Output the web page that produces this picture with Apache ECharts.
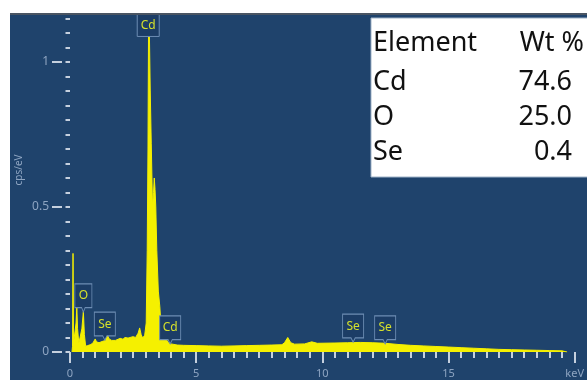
<!DOCTYPE html>
<html><head><meta charset="utf-8">
<script src="https://cdn.jsdelivr.net/npm/echarts/dist/echarts.min.js"></script>
<style>html,body{margin:0;padding:0;background:#fff}#c{width:587px;height:380px}</style>
</head><body><div id="c"></div>
<script>
// EDS spectrum (keV, cps/eV)
const energy = [0.08,0.1,0.12,0.14,0.2,0.24,0.27,0.3,0.35,0.4,0.47,0.53,0.57,0.62,0.7,0.8,0.9,1.0,1.05,1.15,1.27,1.4,1.48,1.55,1.65,1.8,1.99,2.1,2.18,2.3,2.5,2.6,2.7,2.76,2.82,2.88,2.96,3.02,3.06,3.09,3.12,3.14,3.18,3.22,3.27,3.31,3.34,3.37,3.4,3.44,3.5,3.56,3.6,3.7,3.8,3.9,4.0,4.25,4.5,5.0,5.5,6.0,6.5,7.0,7.5,8.0,8.4,8.5,8.63,8.75,8.9,9.3,9.58,9.8,10.5,11.0,11.5,12.0,12.5,13.0,13.5,14.0,14.5,15.0,15.5,16.0,16.5,17.0,17.5,18.0,18.5,19.0,19.5,19.7];
const counts = [0,0.02,0.34,0.03,0.03,0.1,0.156,0.08,0.03,0.03,0.08,0.139,0.06,0.02,0.022,0.025,0.03,0.045,0.035,0.032,0.036,0.04,0.06,0.045,0.04,0.04,0.047,0.044,0.05,0.048,0.053,0.05,0.065,0.083,0.06,0.048,0.058,0.1,0.35,0.7,1.25,1.25,0.9,0.72,0.5,0.55,0.6,0.56,0.5,0.35,0.21,0.156,0.1,0.07,0.045,0.032,0.028,0.024,0.023,0.022,0.021,0.02,0.021,0.022,0.023,0.024,0.025,0.032,0.05,0.032,0.027,0.028,0.035,0.03,0.031,0.032,0.033,0.032,0.03,0.026,0.023,0.021,0.019,0.017,0.015,0.013,0.011,0.009,0.008,0.007,0.006,0.005,0.004,0];

const xLabelEnd = 'keV';
const yName = 'cps/eV';
const yTop = 1.1655;

const peakNames = ['Cd','O','Se','Cd','Se','Se'];
const peakEnergy = [3.1,0.53,1.38,3.97,11.22,12.49];
const peakLevel = [1.126,0.138,0.041,0.028,0.034,0.028];

const tableHeader = ['Element','Wt %'];
const tableElements = ['Cd','O','Se'];
const tableWt = ['74.6','25.0','0.4'];

const chart = echarts.init(document.getElementById('c'), null, {renderer:'canvas'});
const data = energy.map((e,i)=>[e,counts[i]]);

const calloutPath = 'path://M0,0H20V22H12L10,26L8,22H0Z';
const mpData = peakNames.map((n,i)=>{
  const top = i===0;
  return {
    name:n, coord:[peakEnergy[i],peakLevel[i]],
    symbol: top ? 'rect' : calloutPath,
    symbolSize: top ? [22,22] : (n==='O' ? [17,28] : [21,28]),
    symbolOffset: top ? [0,0] : [0,'-50%'],
    symbolKeepAspect:false,
    label:{show:true, formatter:n, position:'inside', offset: top?[0,0]:[0,-2],
      color:'#d4e02c', fontSize:12, fontFamily:'Noto Sans'}
  };
});

const rowY = [43,82,117,152];
const F = '27px "Noto Sans"';
const gfx = [
  {type:'rect', z:100, shape:{x:0,y:0,width:587,height:14}, style:{fill:'#ffffff'}},
  {type:'rect', z:100, shape:{x:0,y:0,width:10,height:380}, style:{fill:'#ffffff'}},
  {type:'rect', z:101, shape:{x:10,y:13,width:577,height:2}, style:{fill:'#4a5563'}},
  {type:'text', z:100, x:19, y:170, rotation:Math.PI/2,
    style:{text:yName, fill:'#8ea5c2', font:'10px "Noto Sans"', textAlign:'center', textVerticalAlign:'middle'}},
  {type:'rect', z:100, shape:{x:371,y:18,width:220,height:159}, style:{fill:'#ffffff', stroke:'#9fb3c8', lineWidth:1}},
  {type:'text', z:101, x:373, y:rowY[0], style:{text:tableHeader[0], fill:'#111', font:F, textAlign:'left', textVerticalAlign:'middle'}},
  {type:'text', z:101, x:584, y:rowY[0], style:{text:tableHeader[1], fill:'#111', font:F, textAlign:'right', textVerticalAlign:'middle'}}
];
tableElements.forEach((el,i)=>{
  gfx.push({type:'text', z:101, x:373, y:rowY[i+1], style:{text:el, fill:'#111', font:F, textAlign:'left', textVerticalAlign:'middle'}});
  gfx.push({type:'text', z:101, x:572, y:rowY[i+1], style:{text:tableWt[i], fill:'#111', font:F, textAlign:'right', textVerticalAlign:'middle'}});
});

const tickColor = '#c5d0de';
chart.setOption({
  backgroundColor:'#1f436c',
  animation:false,
  grid:{left:70, right:0, top:14, bottom:28},
  xAxis:{type:'value', min:0, max:20, interval:5, offset:2,
    axisLine:{show:false},
    axisTick:{show:true, length:11, lineStyle:{color:tickColor, width:2}},
    minorTick:{show:true, splitNumber:10, length:6, lineStyle:{color:tickColor, width:2}},
    splitLine:{show:false}, minorSplitLine:{show:false},
    axisLabel:{color:'#8ea5c2', fontSize:11, fontFamily:'Noto Sans', margin:14,
      formatter:v=> v===20 ? xLabelEnd : String(v)}
  },
  yAxis:[
    {type:'value', position:'left', min:0, max:yTop, interval:0.05, offset:8,
      axisLine:{show:false},
      axisTick:{show:true, length:4.5, lineStyle:{color:tickColor, width:2}},
      splitLine:{show:false}, axisLabel:{show:false}},
    {type:'value', position:'left', min:0, max:yTop, interval:0.5, offset:8,
      axisLine:{show:false},
      axisTick:{show:true, length:10, lineStyle:{color:tickColor, width:2}},
      splitLine:{show:false},
      axisLabel:{color:'#8ea5c2', fontSize:12, fontFamily:'Noto Sans', margin:13,
        formatter:v=> (Math.abs(v*2-Math.round(v*2))<1e-6) ? String(v) : ''}}
  ],
  series:[{type:'line', yAxisIndex:0, data:data, showSymbol:false, symbol:'none',
    lineStyle:{color:'#f5f000', width:1}, areaStyle:{color:'#f5f000', opacity:1},
    markPoint:{itemStyle:{color:'#1c3d66', borderColor:'#6d8db3', borderWidth:1}, data:mpData}
  }],
  graphic:gfx
});
</script></body></html>
